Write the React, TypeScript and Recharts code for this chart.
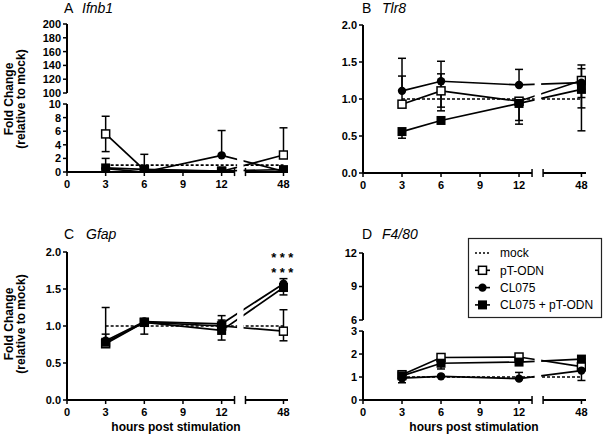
import React from "react";
import {
  ComposedChart,
  Line,
  XAxis,
  YAxis,
  ErrorBar,
  ReferenceLine,
  ReferenceArea,
} from "recharts";

const FONT = '"Liberation Sans", Arial, Helvetica, sans-serif';

// x: hours post stimulation (axis broken between 12 and 48)
const hours = [3, 6, 12, 48];
const xTickHours = [0, 3, 6, 9, 12, 48];
const mock = [1, 1, 1, 1];

// A  Ifnb1
const ifnbPt = [5.6, 0.3, 0.1, 2.5];
const ifnbPtLo = [3.0, null, null, null];
const ifnbPtHi = [8.2, null, null, 6.5];
const ifnbCl = [0.5, 0.0, 2.45, 0.1];
const ifnbClLo = [null, null, null, null];
const ifnbClHi = [null, null, 6.1, null];
const ifnbCombo = [0.6, 0.4, 0.15, 0.35];
const ifnbComboLo = [null, null, null, null];
const ifnbComboHi = [2.0, 2.6, null, null];
const ifnbTicks = [0, 2, 4, 6, 8, 10, 100, 120, 140, 160, 180, 200];

// B  Tlr8
const tlr8Pt = [0.93, 1.11, 0.97, 1.25];
const tlr8PtLo = [null, 0.89, 0.71, 0.88];
const tlr8PtHi = [1.31, 1.34, null, 1.41];
const tlr8Cl = [1.11, 1.24, 1.19, 1.22];
const tlr8ClLo = [null, 0.84, null, 1.02];
const tlr8ClHi = [1.55, 1.51, 1.4, 1.46];
const tlr8Combo = [0.56, 0.71, 0.94, 1.13];
const tlr8ComboLo = [0.47, null, 0.66, 0.57];
const tlr8ComboHi = [null, null, null, null];
const foldTicks = [0, 0.5, 1, 1.5, 2];

// C  Gfap
const gfapPt = [0.76, 1.05, 1.0, 0.93];
const gfapPtLo = [null, null, null, 0.8];
const gfapPtHi = [0.89, null, 1.08, 1.22];
const gfapCl = [0.8, 1.06, 1.03, 1.57];
const gfapClLo = [null, null, null, null];
const gfapClHi = [null, null, 1.14, 1.64];
const gfapCombo = [0.78, 1.05, 0.94, 1.52];
const gfapComboLo = [null, 0.89, 0.81, 1.42];
const gfapComboHi = [1.25, null, null, null];

// D  F4/80
const f480Pt = [1.1, 1.85, 1.87, 1.45];
const f480PtLo = [null, null, null, null];
const f480PtHi = [1.25, null, null, null];
const f480Cl = [0.95, 1.03, 0.93, 1.28];
const f480ClLo = [0.75, null, null, 0.85];
const f480ClHi = [null, null, 1.2, null];
const f480Combo = [1.05, 1.6, 1.65, 1.78];
const f480ComboLo = [null, 1.35, null, null];
const f480ComboHi = [null, null, null, null];
const f480Ticks = [0, 1, 2, 3, 6, 9, 12];

type Val = number | null;
type Series = { v: number[]; lo: Val[]; hi: Val[] };

// broken x axis: 0..13 | gap | 46..48.2
const X_END = 17.15;
const GAP_L = 13.0;
const GAP_R = 13.85;
const xPos = (h: number) => (h <= 13 ? h : GAP_R + (h - 46) * 1.475);

// broken y axes
const yIdent = (v: number) => v;
const yIfnb = (v: number) => (v <= 10 ? v : 11.62 + (v - 100) * 0.1015);
const yF480 = (v: number) => (v <= 3 ? v : 3.48 + (v - 6) * 0.486);

const nearest = (arr: number[], v: number) => {
  let best = 0;
  arr.forEach((a, i) => {
    if (Math.abs(a - v) < Math.abs(arr[best] - v)) best = i;
  });
  return best;
};

const tickStyle = { fontSize: 11, fontWeight: 700, fill: "#000", fontFamily: FONT };
const tickLineStyle = { stroke: "#000", strokeWidth: 1.5 };

const OpenSquare = (p: any) => (
  <rect key={`os-${p.index}`} x={p.cx - 4} y={p.cy - 4} width={8} height={8} fill="#fff" stroke="#000" strokeWidth={1.5} />
);
const FilledCircle = (p: any) => (
  <circle key={`fc-${p.index}`} cx={p.cx} cy={p.cy} r={4.2} fill="#000" />
);
const FilledSquare = (p: any) => (
  <rect key={`fs-${p.index}`} x={p.cx - 4.5} y={p.cy - 4.5} width={9} height={9} fill="#000" />
);

interface PanelProps {
  left: number;
  top: number;
  height: number;
  yw: number;
  mt: number;
  mr: number;
  xh: number;
  pt: Series;
  cl: Series;
  combo: Series;
  yMap: (v: number) => number;
  yLabels: number[];
  fmt: (v: number) => string;
  ySegs: number[][];
  capH: number;
}

function Panel({ left, top, height, yw, mt, mr, xh, pt, cl, combo, yMap, yLabels, fmt, ySegs, capH }: PanelProps) {
  const yTop = yMap(yLabels[yLabels.length - 1]);
  const err = (s: Series, i: number) => {
    const c = yMap(s.v[i]);
    const lo = s.lo[i];
    const hi = s.hi[i];
    return [lo == null ? 0 : c - yMap(lo), hi == null ? 0 : yMap(hi) - c];
  };
  const rows = hours.map((h, i) => ({
    x: xPos(h),
    mock: yMap(mock[i]),
    pt: yMap(pt.v[i]),
    ptErr: err(pt, i),
    cl: yMap(cl.v[i]),
    clErr: err(cl, i),
    combo: yMap(combo.v[i]),
    comboErr: err(combo, i),
  }));
  const xTicks = xTickHours.map(xPos);
  const yTicks = yLabels.map(yMap);
  const axisLine = { stroke: "#000", strokeWidth: 2, ifOverflow: "visible" as const };

  return (
    <div style={{ position: "absolute", left, top }}>
      <ComposedChart width={300} height={height} data={rows} margin={{ top: mt, right: mr, bottom: 0, left: 0 }}>
        <XAxis
          type="number"
          dataKey="x"
          domain={[0, X_END]}
          allowDataOverflow
          ticks={xTicks}
          interval={0}
          tickFormatter={(v) => String(xTickHours[nearest(xTicks, v)])}
          axisLine={false}
          tickLine={tickLineStyle}
          tickSize={4}
          tickMargin={4}
          height={xh}
          tick={tickStyle}
        />
        <YAxis
          type="number"
          domain={[0, yTop]}
          allowDataOverflow
          ticks={yTicks}
          interval={0}
          tickFormatter={(v) => fmt(yLabels[nearest(yTicks, v)])}
          axisLine={false}
          tickLine={tickLineStyle}
          tickSize={4}
          tickMargin={2}
          width={yw}
          tick={tickStyle}
        />
        <Line dataKey="mock" type="linear" stroke="#000" strokeWidth={1.7} strokeDasharray="3 2" dot={false} isAnimationActive={false} />
        <Line dataKey="pt" type="linear" stroke="#000" strokeWidth={1.7} dot={OpenSquare} isAnimationActive={false}>
          <ErrorBar dataKey="ptErr" direction="y" width={4} stroke="#000" strokeWidth={1.5} />
        </Line>
        <Line dataKey="cl" type="linear" stroke="#000" strokeWidth={1.7} dot={FilledCircle} isAnimationActive={false}>
          <ErrorBar dataKey="clErr" direction="y" width={4} stroke="#000" strokeWidth={1.5} />
        </Line>
        <Line dataKey="combo" type="linear" stroke="#000" strokeWidth={1.7} dot={FilledSquare} isAnimationActive={false}>
          <ErrorBar dataKey="comboErr" direction="y" width={4} stroke="#000" strokeWidth={1.5} />
        </Line>
        <ReferenceArea
          x1={13.2}
          x2={13.7}
          y1={0}
          y2={yTop}
          fill="#fff"
          fillOpacity={1}
          stroke="none"
          ifOverflow="visible"
          zIndex={900}
        />
        {ySegs.map(([a, b], i) => (
          <ReferenceLine key={`ys-${i}`} segment={[{ x: 0, y: a }, { x: 0, y: b }]} {...axisLine} />
        ))}
        <ReferenceLine segment={[{ x: 0, y: 0 }, { x: GAP_L, y: 0 }]} {...axisLine} />
        <ReferenceLine segment={[{ x: GAP_R, y: 0 }, { x: X_END, y: 0 }]} {...axisLine} />
        <ReferenceLine segment={[{ x: GAP_L, y: -capH }, { x: GAP_L, y: capH }]} {...axisLine} strokeWidth={1.5} />
        <ReferenceLine segment={[{ x: GAP_R, y: -capH }, { x: GAP_R, y: capH }]} {...axisLine} strokeWidth={1.5} />
      </ComposedChart>
    </div>
  );
}

const LegendMark = ({ kind, cy }: { kind: string; cy: number }) => {
  const x1 = 475;
  const x2 = 490;
  const cx = 482.5;
  return (
    <g>
      <line x1={x1} y1={cy} x2={x2} y2={cy} stroke="#000" strokeWidth={1.6} strokeDasharray={kind === "mock" ? "2 2" : undefined} />
      {kind === "pt" && <rect x={cx - 4} y={cy - 4} width={8} height={8} fill="#fff" stroke="#000" strokeWidth={1.5} />}
      {kind === "cl" && <circle cx={cx} cy={cy} r={4.2} fill="#000" />}
      {kind === "combo" && <rect x={cx - 4.5} y={cy - 4.5} width={9} height={9} fill="#000" />}
    </g>
  );
};

const legendItems = [
  { kind: "mock", label: "mock" },
  { kind: "pt", label: "pT-ODN" },
  { kind: "cl", label: "CL075" },
  { kind: "combo", label: "CL075 + pT-ODN" },
];

export default function App() {
  const fmtInt = (v: number) => String(v);
  const fmtOne = (v: number) => v.toFixed(1);
  return (
    <div style={{ position: "absolute", left: 0, top: 0, width: 605, height: 438, background: "#fff", overflow: "hidden" }}>
      <Panel
        left={0}
        top={0}
        height={200}
        yw={67}
        mt={24}
        mr={12}
        xh={28}
        pt={{ v: ifnbPt, lo: ifnbPtLo, hi: ifnbPtHi }}
        cl={{ v: ifnbCl, lo: ifnbClLo, hi: ifnbClHi }}
        combo={{ v: ifnbCombo, lo: ifnbComboLo, hi: ifnbComboHi }}
        yMap={yIfnb}
        yLabels={ifnbTicks}
        fmt={fmtInt}
        ySegs={[[0, 10], [yIfnb(100), yIfnb(200)]]}
        capH={0.6}
      />
      <Panel
        left={300}
        top={0}
        height={200}
        yw={63}
        mt={25}
        mr={14}
        xh={27}
        pt={{ v: tlr8Pt, lo: tlr8PtLo, hi: tlr8PtHi }}
        cl={{ v: tlr8Cl, lo: tlr8ClLo, hi: tlr8ClHi }}
        combo={{ v: tlr8Combo, lo: tlr8ComboLo, hi: tlr8ComboHi }}
        yMap={yIdent}
        yLabels={foldTicks}
        fmt={fmtOne}
        ySegs={[[0, 2]]}
        capH={0.055}
      />
      <Panel
        left={0}
        top={220}
        height={218}
        yw={67}
        mt={32}
        mr={12}
        xh={38}
        pt={{ v: gfapPt, lo: gfapPtLo, hi: gfapPtHi }}
        cl={{ v: gfapCl, lo: gfapClLo, hi: gfapClHi }}
        combo={{ v: gfapCombo, lo: gfapComboLo, hi: gfapComboHi }}
        yMap={yIdent}
        yLabels={foldTicks}
        fmt={fmtOne}
        ySegs={[[0, 2]]}
        capH={0.055}
      />
      <Panel
        left={300}
        top={220}
        height={218}
        yw={63}
        mt={33}
        mr={14}
        xh={38}
        pt={{ v: f480Pt, lo: f480PtLo, hi: f480PtHi }}
        cl={{ v: f480Cl, lo: f480ClLo, hi: f480ClHi }}
        combo={{ v: f480Combo, lo: f480ComboLo, hi: f480ComboHi }}
        yMap={yF480}
        yLabels={f480Ticks}
        fmt={fmtInt}
        ySegs={[[0, 3], [yF480(6), yF480(12)]]}
        capH={0.17}
      />
      <svg
        width={605}
        height={438}
        style={{ position: "absolute", left: 0, top: 0, pointerEvents: "none" }}
        fontFamily={FONT}
      >
        <text x={64} y={13} fontSize={14}>A</text>
        <text x={82} y={13} fontSize={14} fontStyle="italic">Ifnb1</text>
        <text x={362} y={13} fontSize={14}>B</text>
        <text x={382} y={13} fontSize={14} fontStyle="italic">Tlr8</text>
        <text x={64} y={239} fontSize={14}>C</text>
        <text x={86} y={239} fontSize={14} fontStyle="italic">Gfap</text>
        <text x={362} y={239} fontSize={14}>D</text>
        <text x={382} y={239} fontSize={14} fontStyle="italic">F4/80</text>

        {[99, 324].map((cy) => (
          <text
            key={`yl-${cy}`}
            fontSize={12}
            fontWeight={700}
            textAnchor="middle"
            transform={`translate(14 ${cy}) rotate(-90)`}
          >
            <tspan x={0} y={-1.5}>Fold  Change</tspan>
            <tspan x={0} y={11}>(relative to mock)</tspan>
          </text>
        ))}
        <text x={176} y={431} fontSize={12} fontWeight={700} textAnchor="middle">hours post stimulation</text>
        <text x={474} y={431} fontSize={12} fontWeight={700} textAnchor="middle">hours post stimulation</text>

        <text x={284} y={262} fontSize={13} fontWeight={700} textAnchor="middle" letterSpacing={3.5}>***</text>
        <text x={284} y={277} fontSize={13} fontWeight={700} textAnchor="middle" letterSpacing={3.5}>***</text>

        <rect x={468.5} y={238.5} width={133} height={79} fill="#fff" stroke="#222" strokeWidth={1.2} />
        {legendItems.map((it, i) => {
          const cy = 253 + i * 17.3;
          return (
            <g key={it.kind}>
              <LegendMark kind={it.kind} cy={cy} />
              <text x={500} y={cy + 4.3} fontSize={12}>{it.label}</text>
            </g>
          );
        })}
      </svg>
    </div>
  );
}
